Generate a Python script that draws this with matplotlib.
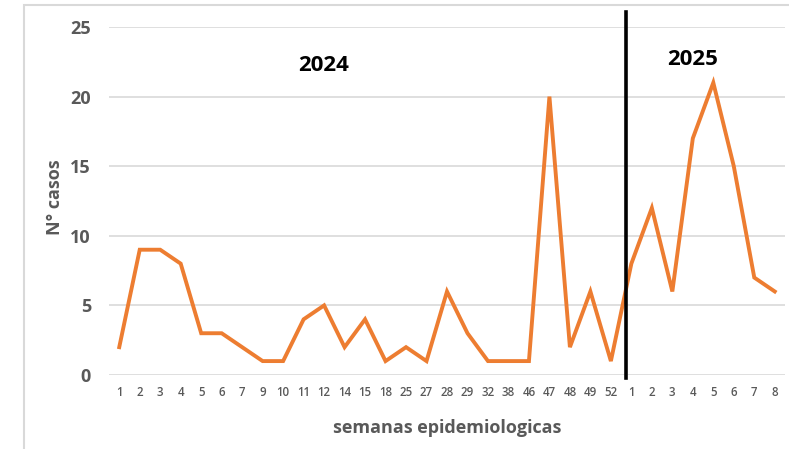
import matplotlib
matplotlib.use("Agg")
import matplotlib.pyplot as plt
from matplotlib.patches import Rectangle

weeks = ["1", "2", "3", "4", "5", "6", "7", "9", "10", "11", "12", "14", "15", "18",
         "25", "27", "28", "29", "32", "38", "46", "47", "48", "49", "52",
         "1", "2", "3", "4", "5", "6", "7", "8"]
cases = [2, 9, 9, 8, 3, 3, 2, 1, 1, 4, 5, 2, 4, 1, 2, 1, 6, 3, 1, 1, 1, 20, 2, 6, 1,
         8, 12, 6, 17, 21, 15, 7, 6]
yticks = [0, 5, 10, 15, 20, 25]
year_labels = ["2024", "2025"]

plt.rcParams['font.family'] = ['Open Sans', 'DejaVu Sans']

W, H = 789, 449
fig = plt.figure(figsize=(W / 100, H / 100), dpi=100)
fig.patch.set_facecolor("white")

# outer frame
fig.patches.append(Rectangle((24 / W, -0.1), 1.0, 1 - 5 / H + 0.1,
                             transform=fig.transFigure, fill=False,
                             edgecolor="#d9d9d9", linewidth=1.5))

left, right = 109 / W, 785 / W
bottom, top = 1 - 375 / H, 1 - 27 / H
ax = fig.add_axes([left, bottom, right - left, top - bottom])

x = list(range(len(weeks)))
ax.plot(x, cases, color="#ED7D31", linewidth=2.8, solid_joinstyle="miter", zorder=3)

ax.set_xlim(-0.5, len(weeks) - 0.5)
ax.set_ylim(0, 25)
ax.set_yticks(yticks)
ax.set_yticklabels([str(v) for v in yticks], fontsize=13, color="#595959",
                   fontweight="bold")
ax.set_xticks(x)
ax.set_xticklabels(weeks, fontsize=8.3, color="#595959", fontweight="semibold")
ax.tick_params(axis="both", length=0)
ax.tick_params(axis="y", pad=13)
ax.tick_params(axis="x", pad=8)

ax.grid(axis="y", color="#d9d9d9", linewidth=1.2)
ax.set_axisbelow(True)
for s in ax.spines.values():
    s.set_visible(False)

ax.set_ylabel("N° casos", fontsize=13, color="#595959", fontweight="bold")
ax.yaxis.set_label_coords((55 - 109) / 676, 0.51)
ax.set_xlabel("semanas epidemiologicas", fontsize=13, color="#595959",
              fontweight="bold")
ax.xaxis.set_label_coords(0.5, (375 - 428) / 348)
ax.xaxis.label.set_va("center")
ax.yaxis.label.set_va("center")

# separator between years
sep = 24.75
ax.plot([sep, sep], [-0.25, 26.1], color="black", linewidth=2.6, clip_on=False, zorder=4)

ax.text(10.0, 22.2, year_labels[0], fontsize=16, fontweight="bold", color="black",
        ha="center", va="center")
ax.text(28.0, 22.7, year_labels[1], fontsize=16, fontweight="bold", color="black",
        ha="center", va="center")

fig.savefig("out.png", dpi=100, facecolor="white")
